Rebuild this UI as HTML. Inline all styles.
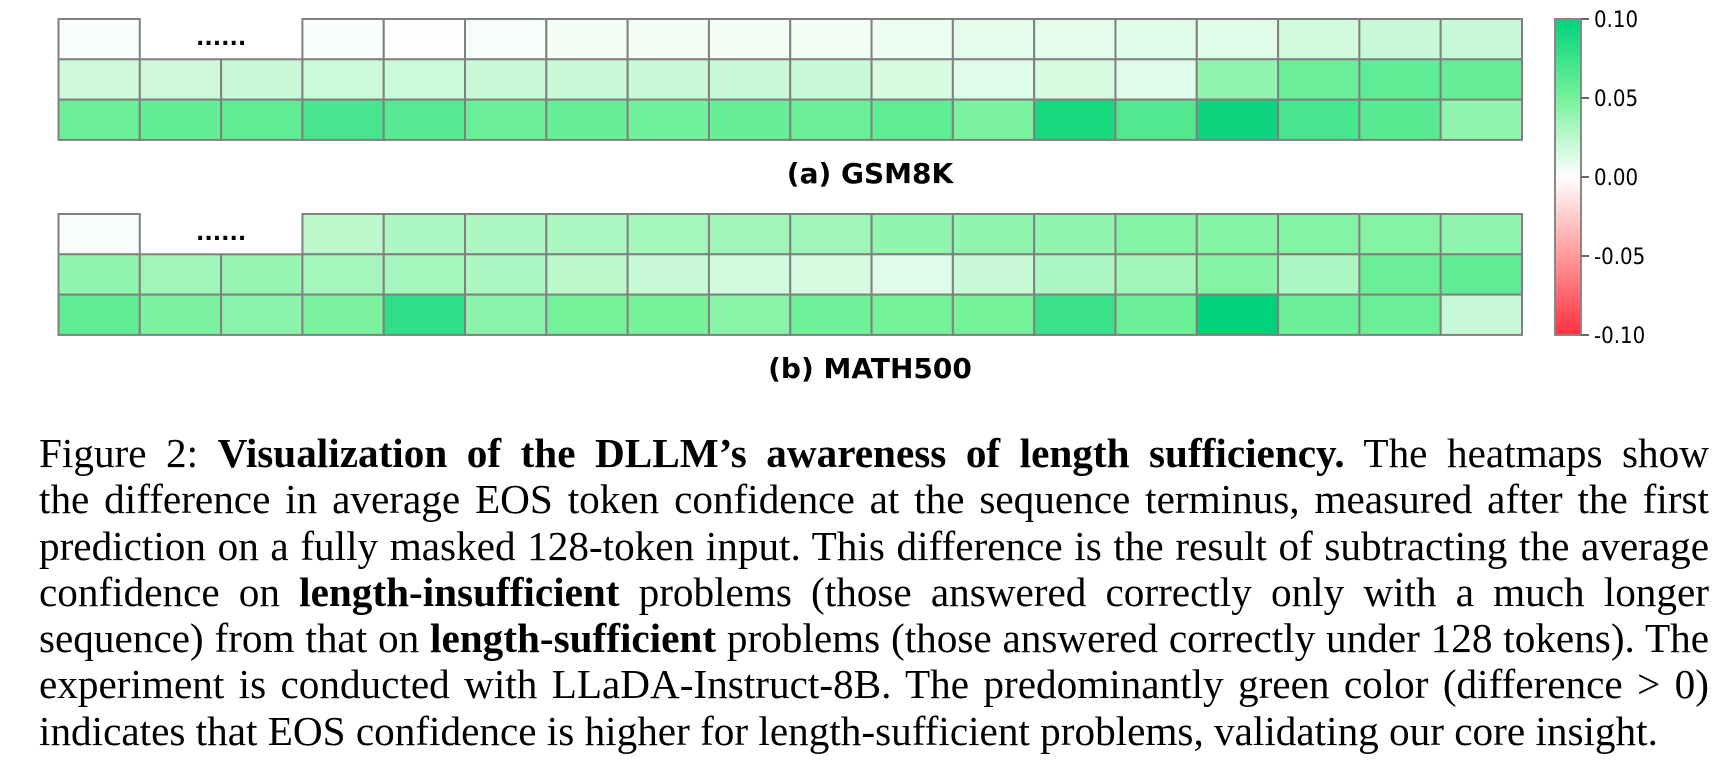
<!DOCTYPE html>
<html><head><meta charset="utf-8">
<style>
body{margin:0;background:#fff;width:1728px;height:774px;overflow:hidden;position:relative}
svg{position:absolute;left:0;top:0}
.cap{position:absolute;left:39px;width:1670px;font-family:"Liberation Serif",serif;font-size:41.2px;color:#000;line-height:46.3px;top:430px}
.cap span{display:block;text-align:justify;text-align-last:justify;white-space:nowrap}
.cap span.last{text-align-last:left}
</style></head><body>
<svg width="1728" height="420">
<g id="hm"></g>
<defs><linearGradient id="cb" x1="0" y1="1" x2="0" y2="0">
<stop offset="0" stop-color="#ff3040"/><stop offset="0.25" stop-color="#ff9a9a"/><stop offset="0.5" stop-color="#ffffff"/><stop offset="0.75" stop-color="#76f29a"/><stop offset="1" stop-color="#00d27a"/></linearGradient></defs>
<rect x="1555" y="19" width="26" height="316" fill="url(#cb)" stroke="#888" stroke-width="2"/>
<g id="cbt" font-family="'Comic Sans MS','DejaVu Sans Condensed','DejaVu Sans',sans-serif" font-size="22"></g>
<text x="870" y="183" text-anchor="middle" font-family="'Comic Sans MS','DejaVu Sans',sans-serif" font-size="28" font-weight="bold">(a) GSM8K</text>
<text x="870" y="378" text-anchor="middle" font-family="'Comic Sans MS','DejaVu Sans',sans-serif" font-size="28" font-weight="bold">(b) MATH500</text>
</svg>
<div class="cap">
<span>Figure 2: <b>Visualization of the DLLM’s awareness of length sufficiency.</b> The heatmaps show</span>
<span>the difference in average EOS token confidence at the sequence terminus, measured after the first</span>
<span>prediction on a fully masked 128-token input. This difference is the result of subtracting the average</span>
<span>confidence on <b>length-insufficient</b> problems (those answered correctly only with a much longer</span>
<span>sequence) from that on <b>length-sufficient</b> problems (those answered correctly under 128 tokens). The</span>
<span>experiment is conducted with LLaDA-Instruct-8B. The predominantly green color (difference &gt; 0)</span>
<span class="last">indicates that EOS confidence is higher for length-sufficient problems, validating our core insight.</span>
</div>
<script>
const gsmRow1=[0.002,null,null,0.002,-0.001,0.003,0.004,0.004,0.004,0.005,0.007,0.01,0.01,0.012,0.012,0.017,0.02,0.02];
const gsmRow2=[0.018,0.018,0.02,0.019,0.019,0.02,0.02,0.02,0.02,0.02,0.015,0.012,0.015,0.012,0.04,0.055,0.06,0.057];
const gsmRow3=[0.055,0.058,0.06,0.07,0.063,0.055,0.056,0.052,0.056,0.055,0.06,0.048,0.09,0.065,0.095,0.07,0.062,0.04];
const mathRow1=[0.002,null,null,0.025,0.03,0.03,0.03,0.033,0.035,0.035,0.04,0.04,0.04,0.045,0.045,0.045,0.045,0.04];
const mathRow2=[0.04,0.035,0.038,0.033,0.033,0.03,0.025,0.02,0.017,0.015,0.012,0.02,0.03,0.035,0.045,0.03,0.055,0.06];
const mathRow3=[0.06,0.048,0.042,0.048,0.08,0.042,0.05,0.05,0.043,0.052,0.05,0.05,0.075,0.055,0.1,0.055,0.055,0.02];
const cbTicks=[0.10,0.05,0.00,-0.05,-0.10];
const X0=58.5,X1=1522,cols=18,cw=(X1-X0)/cols,rh=40.3;
function xS(i){return X0+i*cw}
function cbY(v){return 19+(0.1-v)/0.2*316}
function hex(c){return c.map(v=>Math.round(v))}
function mix(a,b,t){return a.map((v,i)=>v+(b[i]-v)*t)}
function color(v){
  const W=[255,255,255],G1=[118,242,154],G2=[0,210,122],R1=[255,154,154],R2=[255,48,64];
  let c;
  if(v>=0){c=v<=0.05?mix(W,G1,v/0.05):mix(G1,G2,Math.min(1,(v-0.05)/0.05));}
  else{const a=-v;c=a<=0.05?mix(W,R1,a/0.05):mix(R1,R2,Math.min(1,(a-0.05)/0.05));}
  c=hex(c);return `rgb(${c[0]},${c[1]},${c[2]})`;
}
const g=document.getElementById('hm');const NS='http://www.w3.org/2000/svg';
function panel(rows,top,name){
  rows.forEach((row,r)=>{row.forEach((v,i)=>{
    if(v===null)return;
    const el=document.createElementNS(NS,'rect');
    el.setAttribute('x',xS(i));el.setAttribute('y',top+r*rh);
    el.setAttribute('width',cw);el.setAttribute('height',rh);
    el.setAttribute('fill',color(v));el.setAttribute('stroke','#808080');el.setAttribute('stroke-width','2');
    
    
    g.appendChild(el);});});
  const t=document.createElementNS(NS,'text');
  t.setAttribute('x',xS(2));t.setAttribute('y',top+26);t.setAttribute('text-anchor','middle');
  t.setAttribute('font-size','22');t.setAttribute('font-weight','bold');t.setAttribute('font-family','DejaVu Sans,sans-serif');
  t.textContent='......';
  
  
  g.appendChild(t);
}
panel([gsmRow1,gsmRow2,gsmRow3],19,'gsm8k');
panel([mathRow1,mathRow2,mathRow3],214,'math500');
const cb=document.getElementById('cbt');
cbTicks.forEach(v=>{
  const y=cbY(v);
  const l=document.createElementNS(NS,'line');
  l.setAttribute('x1',1581);l.setAttribute('x2',1589);l.setAttribute('y1',y);l.setAttribute('y2',y);l.setAttribute('stroke','#666');l.setAttribute('stroke-width','2');
  
  
  cb.appendChild(l);
  const t=document.createElementNS(NS,'text');
  t.setAttribute('x',1594);t.setAttribute('y',y+8);t.textContent=v.toFixed(2);
  
  
  cb.appendChild(t);
});
</script>
</body></html>
